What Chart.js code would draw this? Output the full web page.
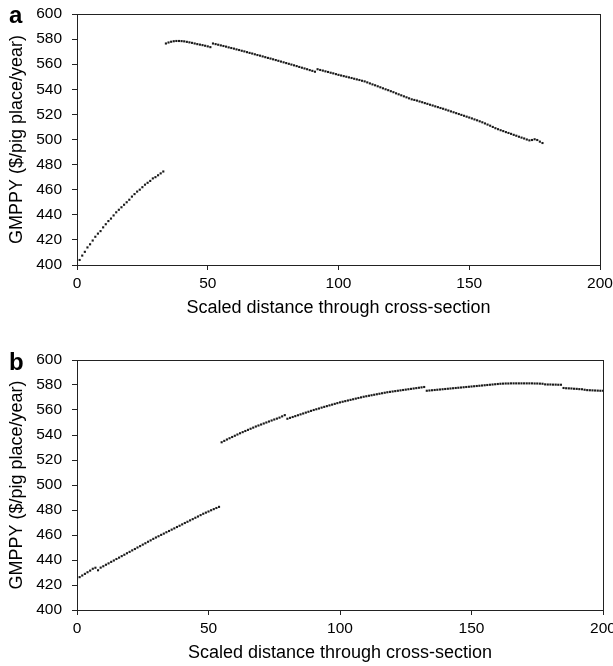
<!DOCTYPE html>
<html>
<head>
<meta charset="utf-8">
<script src="https://cdn.jsdelivr.net/npm/chart.js@4.4.1/dist/chart.umd.min.js"></script>
<style>
body{margin:0;background:#fff;width:613px;height:666px;position:relative;overflow:hidden;font-family:"Liberation Sans",Arial,sans-serif}
.wrap{position:absolute;left:0;width:613px}
#wrapA{top:0;height:330px}
#wrapB{top:330px;height:336px}
.lbl{position:absolute;font-weight:bold;font-size:24px;line-height:24px;color:#000}
</style>
</head>
<body>
<div class="wrap" id="wrapA"><canvas id="chartA" width="613" height="330"></canvas></div>
<div class="wrap" id="wrapB"><canvas id="chartB" width="613" height="336"></canvas></div>
<div class="lbl" style="left:9px;top:3px">a</div>
<div class="lbl" style="left:9px;top:350px">b</div>
<script>
// scaled distance through cross-section (shared x values)
const distance = [0,1,2,3,4,5,6,7,8,9,10,11,12,13,14,15,16,17,18,19,20,21,22,23,24,25,26,27,28,29,30,31,32,33,34,35,36,37,38,39,40,41,42,43,44,45,46,47,48,49,50,51,52,53,54,55,56,57,58,59,60,61,62,63,64,65,66,67,68,69,70,71,72,73,74,75,76,77,78,79,80,81,82,83,84,85,86,87,88,89,90,91,92,93,94,95,96,97,98,99,100,101,102,103,104,105,106,107,108,109,110,111,112,113,114,115,116,117,118,119,120,121,122,123,124,125,126,127,128,129,130,131,132,133,134,135,136,137,138,139,140,141,142,143,144,145,146,147,148,149,150,151,152,153,154,155,156,157,158,159,160,161,162,163,164,165,166,167,168,169,170,171,172,173,174,175,176,177,178,179,180,181,182,183,184,185,186,187,188,189,190,191,192,193,194,195,196,197,198,199,200];

// panel a: GMPPY values, distance 0..178
const gmppyA = [
  401,404,407.5,410.5,414,416.5,419.5,422.5,425,427,430,432.5,435,437,439.5,442,444,446,448,450,452,454.5,456.5,458.5,460,462,464,465.5,467,469,470,471.5,473,474.5,
  576.5,577.3,577.9,578.3,578.5,578.5,578.4,578.2,577.8,577.4,577,576.5,576,575.6,575.2,574.7,574.2,573.6,
  576.5,576,575.5,575,574.5,574,573.4,572.9,572.4,571.8,571.3,570.7,570.2,569.6,569,568.5,567.9,567.3,566.8,566.2,
  565.6,565,564.5,563.9,563.3,562.7,562.1,561.5,560.9,560.3,559.7,559.1,558.5,557.8,557.2,556.6,556,555.3,554.7,554,
  556.0,555.4,554.9,554.3,553.8,553.2,552.7,552.1,551.5,551.0,550.5,550.0,549.5,549.0,548.4,547.9,547.4,546.8,546.3,545.5,
  544.7,543.9,543.2,542.4,541.6,540.8,540.0,539.3,538.5,537.7,536.8,536.0,535.2,534.4,533.6,532.8,532.0,531.5,531.0,530.3,
  529.7,529.0,528.4,527.7,527.1,526.4,525.8,525.1,524.5,523.8,523.1,522.4,521.7,521.0,520.3,519.6,518.9,518.2,517.5,516.8,
  516.0,515.3,514.5,513.7,512.8,511.9,511.0,510.0,509.0,508.2,507.4,506.7,505.9,505.2,504.5,503.7,503.0,502.2,501.5,500.8,
  500.0,499.3,499.6,500.2,499.6,498.3,497.2
];

// panel b: GMPPY values, distance 0..200
const gmppyB = [
  425.0,426.3,427.6,428.9,430.2,431.5,433.0,433.8,431.8,433.9,435.0,436.2,437.3,438.5,439.6,440.8,441.9,443.1,444.2,445.4,
  446.5,447.7,448.8,450.0,451.1,452.3,453.4,454.6,455.7,456.9,458.0,459.0,460.1,461.1,462.2,463.2,464.3,465.3,466.4,467.4,
  468.5,469.6,470.6,471.7,472.7,473.8,474.8,475.9,477.0,477.9,478.8,479.8,480.7,481.6,482.5,
  534.2,535.3,536.4,537.4,538.4,539.4,540.4,541.4,542.3,543.2,544.1,545.0,545.9,546.8,547.6,548.4,549.2,550.0,550.8,551.6,
  552.4,553.1,553.9,554.9,555.9,
  553.0,553.7,554.4,555.1,555.8,556.5,557.2,557.9,558.6,559.3,560.0,560.6,561.2,561.9,562.5,563.1,563.7,564.3,564.9,565.5,
  566.1,566.6,567.1,567.6,568.1,568.6,569.1,569.6,570.1,570.6,571.0,571.4,571.8,572.2,572.6,573.0,573.4,573.8,574.2,574.5,
  574.8,575.1,575.4,575.7,576.0,576.3,576.6,576.9,577.2,577.5,577.8,578.1,578.4,
  575.4,575.6,575.8,576.0,576.2,576.4,576.6,576.8,577.0,577.2,577.4,577.6,577.8,578.0,578.2,578.4,578.6,578.8,579.0,579.2,
  579.4,579.6,579.8,580.0,580.2,580.4,580.6,580.8,581.0,581.1,581.2,581.2,581.3,581.3,581.3,581.3,581.3,581.3,581.3,581.3,
  581.3,581.2,581.2,581.1,581.0,580.5,580.4,580.4,580.3,580.3,580.2,580.2,
  577.6,577.4,577.3,577.2,577.0,576.9,576.7,576.6,576.2,575.9,575.8,575.7,575.6,575.5,575.4,575.4
];

const xTicks = [0, 50, 100, 150, 200];
const yTicks = [400, 420, 440, 460, 480, 500, 520, 540, 560, 580, 600];
const xTitle = "Scaled distance through cross-section";
const yTitle = "GMPPY ($/pig place/year)";

const fontFamily = "'Liberation Sans', Arial, sans-serif";

// box round the plot area
const frame = {
    id: "frame",
    afterDraw(chart) {
        const a = chart.chartArea;
        const ctx = chart.ctx;
        ctx.save();
        ctx.strokeStyle = "#222";
        ctx.lineWidth = 1;
        ctx.strokeRect(Math.round(a.left) + 0.5, Math.round(a.top) + 0.5, Math.round(a.right - a.left), Math.round(a.bottom - a.top));
        ctx.restore();
    }
};

function toPoints(values) {
    let pts = [];
    for (let i = 0; i < values.length; i++) {
        pts.push({ x: distance[i], y: values[i] });
    }
    return pts;
}

function makeChart(canvasId, values, pad) {
    let canvas = document.getElementById(canvasId);
    return new Chart(canvas, {
        type: "scatter",
        data: {
            datasets: [{
                data: toPoints(values),
                pointStyle: "rect",
                pointRadius: 1.5,
                pointBorderWidth: 0,
                backgroundColor: "#1a1a1a",
                showLine: false
            }]
        },
        options: {
            responsive: false,
            animation: false,
            devicePixelRatio: 1,
            layout: { padding: pad },
            plugins: { legend: { display: false }, tooltip: { enabled: false } },
            scales: {
                x: {
                    type: "linear",
                    min: xTicks[0],
                    max: xTicks[xTicks.length - 1],
                    afterBuildTicks: (s) => { s.ticks = xTicks.map(v => ({ value: v })); },
                    afterFit: (s) => { s.height = 54; s.paddingLeft = 0; s.paddingRight = 0; },
                    grid: { drawOnChartArea: false, drawTicks: true, tickLength: 5, color: "#222" },
                    border: { display: false },
                    ticks: { color: "#000", padding: 4, maxRotation: 0, font: { family: fontFamily, size: 15.5 } },
                    title: { display: true, text: xTitle, color: "#000", padding: 0, font: { family: fontFamily, size: 18 } }
                },
                y: {
                    type: "linear",
                    min: yTicks[0],
                    max: yTicks[yTicks.length - 1],
                    afterBuildTicks: (s) => { s.ticks = yTicks.map(v => ({ value: v })); },
                    afterFit: (s) => { s.width = 77; s.paddingTop = 0; s.paddingBottom = 0; },
                    grid: { drawOnChartArea: false, drawTicks: true, tickLength: 5, color: "#222" },
                    border: { display: false },
                    ticks: { color: "#000", padding: 10, font: { family: fontFamily, size: 15.5 } },
                    title: { display: true, text: yTitle, color: "#000", padding: { top: 6, bottom: 0 }, font: { family: fontFamily, size: 18 } }
                }
            }
        },
        plugins: [frame]
    });
}

makeChart("chartA", gmppyA, { top: 14, right: 13, bottom: 11, left: 0 });
makeChart("chartB", gmppyB, { top: 30, right: 10, bottom: 2, left: 0 });
</script>
</body>
</html>
